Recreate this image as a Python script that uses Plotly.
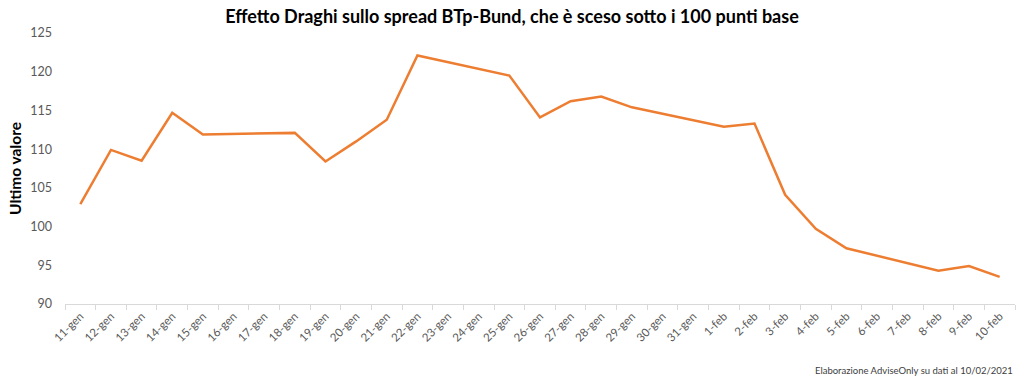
import plotly.graph_objects as go

categories = ["11-gen", "12-gen", "13-gen", "14-gen", "15-gen", "16-gen", "17-gen", "18-gen",
              "19-gen", "20-gen", "21-gen", "22-gen", "23-gen", "24-gen", "25-gen", "26-gen",
              "27-gen", "28-gen", "29-gen", "30-gen", "31-gen", "1-feb", "2-feb", "3-feb",
              "4-feb", "5-feb", "6-feb", "7-feb", "8-feb", "9-feb", "10-feb"]
# None = weekend (no quote); the line spans the gap
spread = [102.9, 109.9, 108.5, 114.7, 111.9, None, None, 112.1,
          108.4, 111.0, 113.8, 122.1, None, None, 119.5, 114.1,
          116.2, 116.8, 115.4, None, None, 112.9, 113.3, 104.1,
          99.7, 97.2, None, None, 94.3, 94.9, 93.5]
y_ticks = [90, 95, 100, 105, 110, 115, 120, 125]

title_text = "Effetto Draghi sullo spread BTp-Bund, che è sceso sotto i 100 punti base"
y_title = "Ultimo valore"
footer = "Elaborazione AdviseOnly su dati al 10/02/2021"

W, H = 1024, 382

fig = go.Figure()
fig.add_trace(go.Scatter(x=categories, y=spread, mode="lines", connectgaps=True,
                         line=dict(color="#ED7D31", width=2.5), showlegend=False))

fig.update_layout(
    width=W, height=H,
    margin=dict(l=65, r=9, t=33, b=78, autoexpand=False),
    paper_bgcolor="white", plot_bgcolor="white",
    font=dict(family="Lato, Open Sans, sans-serif", color="#595959"),
    title=dict(text=title_text, x=512 / W, xanchor="center", xref="container",
               y=1 - 17 / H, yref="container", yanchor="middle", automargin=False,
               font=dict(size=18, color="#000000", family="Lato, sans-serif", weight="bold")),
    annotations=[dict(text=footer, xref="paper", yref="paper", x=1.0, y=-66 / 271,
                      xanchor="right", yanchor="middle", showarrow=False,
                      font=dict(size=9.5, color="#404040"))],
)
fig.update_xaxes(type="category", tickangle=-45, tickfont=dict(size=11.5, color="#595959"),
                 showline=True, linecolor="#D9D9D9", linewidth=1, automargin=False,
                 ticks="outside", tickson="boundaries", ticklen=5, tickcolor="#D9D9D9",
                 showgrid=False, range=[-0.5, len(categories) - 0.5])
fig.update_yaxes(range=[90, 125], tickvals=y_ticks, showgrid=False, zeroline=False,
                 automargin=False,
                 tickfont=dict(size=12.5, color="#595959"), ticklabelstandoff=12,
                 title=dict(text=y_title, standoff=4,
                            font=dict(size=15.5, color="#000000", weight="bold")))

fig.write_html("out.html", config={"displayModeBar": False},
               post_script="document.body.style.margin='0';")
